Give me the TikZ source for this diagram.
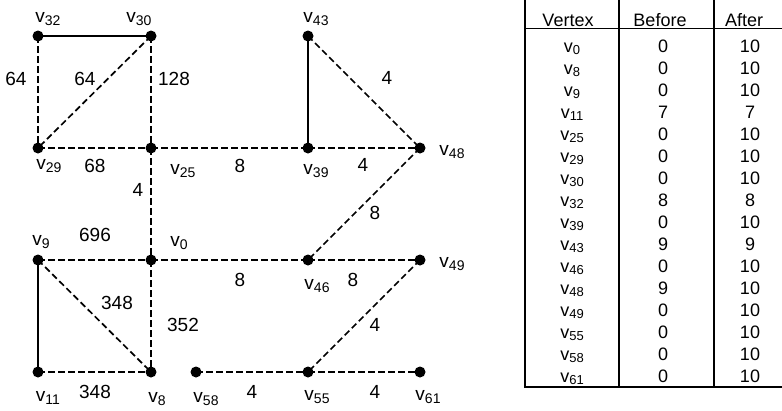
\documentclass[tikz,border=0pt]{standalone}
\usepackage{fontspec}
\setmainfont{Liberation Sans}
\newcommand{\gv}[1]{v\raisebox{-2.8pt}{\fontsize{14}{14}\selectfont #1}}
\newcommand{\tv}[1]{v\raisebox{-2.4pt}{\fontsize{13}{13}\selectfont #1}}
\begin{document}
\begin{tikzpicture}[x=1pt,y=-1pt,
  dot/.style={circle,fill=black,inner sep=0pt,minimum size=11pt},
  solidedge/.style={line width=1.9pt},
  dashedge/.style={line width=1.7pt,dash pattern=on 6.5pt off 3.5pt},
  glab/.style={font=\fontsize{19}{21}\selectfont,inner sep=0pt},
  tcell/.style={font=\fontsize{18}{20}\selectfont,inner sep=0pt,anchor=base},
  tline/.style={line width=1.2pt}]
\useasboundingbox (0,0) rectangle (782,410);
% vertices
\node[dot] (v32) at (38,36) {};
\node[dot] (v30) at (151,36) {};
\node[dot] (v29) at (38,148) {};
\node[dot] (v25) at (151,148) {};
\node[dot] (v43) at (308,36) {};
\node[dot] (v39) at (308,148) {};
\node[dot] (v48) at (420,148) {};
\node[dot] (v9) at (38,260) {};
\node[dot] (v0) at (151,260) {};
\node[dot] (v46) at (308,260) {};
\node[dot] (v49) at (420,260) {};
\node[dot] (v11) at (38,372) {};
\node[dot] (v8) at (151,372) {};
\node[dot] (v58) at (196,372) {};
\node[dot] (v55) at (308,372) {};
\node[dot] (v61) at (420,372) {};
% edges
\draw[solidedge] (v32.center) -- (v30.center);
\draw[solidedge] (v43.center) -- (v39.center);
\draw[solidedge] (v9.center) -- (v11.center);
\draw[dashedge] (v32.center) -- (v29.center);
\draw[dashedge] (v30.center) -- (v29.center);
\draw[dashedge] (v30.center) -- (v25.center);
\draw[dashedge] (v29.center) -- (v25.center);
\draw[dashedge] (v25.center) -- (v39.center);
\draw[dashedge] (v25.center) -- (v0.center);
\draw[dashedge] (v43.center) -- (v48.center);
\draw[dashedge] (v39.center) -- (v48.center);
\draw[dashedge] (v48.center) -- (v46.center);
\draw[dashedge] (v9.center) -- (v0.center);
\draw[dashedge] (v0.center) -- (v46.center);
\draw[dashedge] (v9.center) -- (v8.center);
\draw[dashedge] (v0.center) -- (v8.center);
\draw[dashedge] (v11.center) -- (v8.center);
\draw[dashedge] (v46.center) -- (v49.center);
\draw[dashedge] (v49.center) -- (v55.center);
\draw[dashedge] (v58.center) -- (v55.center);
\draw[dashedge] (v55.center) -- (v61.center);
% vertex labels
\node[glab] (l32) at (48,19) {\gv{32}};
\node[glab] (l30) at (139,19) {\gv{30}};
\node[glab] (l29) at (49,166) {\gv{29}};
\node[glab] (l25) at (183,171) {\gv{25}};
\node[glab] (l43) at (316,19) {\gv{43}};
\node[glab] (l39) at (316,171) {\gv{39}};
\node[glab] (l48) at (452,152) {\gv{48}};
\node[glab] (l9) at (41,242) {\gv{9}};
\node[glab] (l0) at (179,243) {\gv{0}};
\node[glab] (l46) at (317,286) {\gv{46}};
\node[glab] (l49) at (452,264) {\gv{49}};
\node[glab] (l11) at (48,398) {\gv{11}};
\node[glab] (l8) at (157,399) {\gv{8}};
\node[glab] (l58) at (206,399) {\gv{58}};
\node[glab] (l55) at (317,397) {\gv{55}};
\node[glab] (l61) at (428,397) {\gv{61}};
% edge weights
\node[glab] (w1) at (16,79) {64};
\node[glab] (w2) at (85,79) {64};
\node[glab] (w3) at (174,79) {128};
\node[glab] (w4) at (95,166) {68};
\node[glab] (w5) at (240,166) {8};
\node[glab] (w6) at (138,190) {4};
\node[glab] (w7) at (387,78) {4};
\node[glab] (w8) at (363,165) {4};
\node[glab] (w9) at (375,213) {8};
\node[glab] (w10) at (95,235) {696};
\node[glab] (w11) at (240,280) {8};
\node[glab] (w12) at (117,303) {348};
\node[glab] (w13) at (183,325) {352};
\node[glab] (w14) at (95,392) {348};
\node[glab] (w15) at (353,280) {8};
\node[glab] (w16) at (375,325) {4};
\node[glab] (w17) at (252,392) {4};
\node[glab] (w18) at (375,392) {4};
% table
\draw[tline] (525,0) -- (525,387) -- (782,387);
\draw[tline] (619,0) -- (619,387);
\draw[tline] (714,0) -- (714,387);
\draw[tline] (525,28.5) -- (782,28.5);
\node[tcell] (hv) at (568,26.5) {Vertex};
\node[tcell] (hb) at (660,26.5) {Before};
\node[tcell] (ha) at (744,26.5) {After};
\foreach \v/\b/\a [count=\i from 0] in {0/0/10,8/0/10,9/0/10,11/7/7,25/0/10,29/0/10,30/0/10,32/8/8,39/0/10,43/9/9,46/0/10,48/9/10,49/0/10,55/0/10,58/0/10,61/0/10}{
  \node[tcell] (tv\i) at (572,52+22*\i) {\tv{\v}};
  \node[tcell] (tb\i) at (663,52+22*\i) {\b};
  \node[tcell] (ta\i) at (750,52+22*\i) {\a};
}
\end{tikzpicture}
\end{document}
